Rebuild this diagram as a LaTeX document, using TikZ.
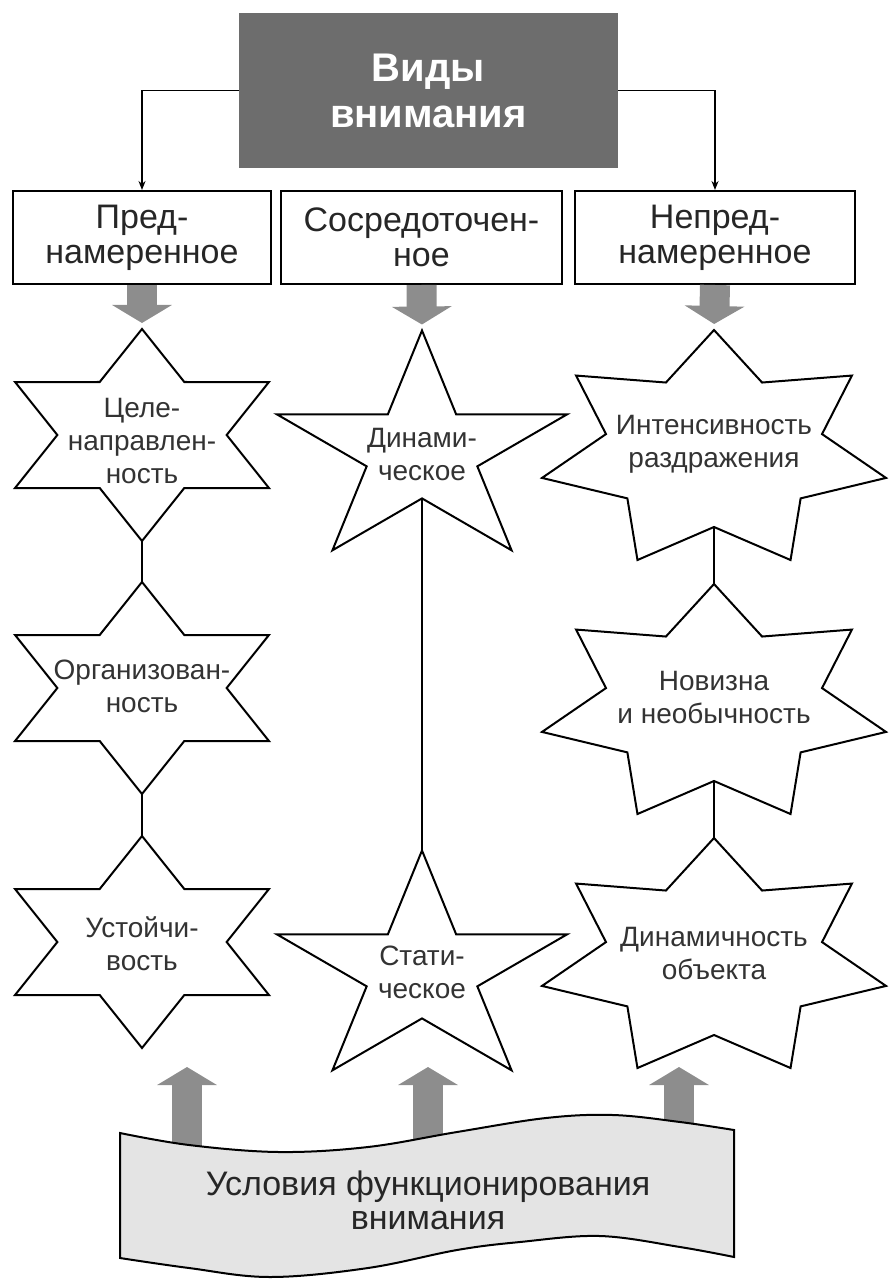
\documentclass[tikz,border=0pt]{standalone}
\usepackage{fontspec}
\setmainfont{Liberation Sans}
\usetikzlibrary{arrows.meta}
\definecolor{titlegray}{HTML}{6D6D6D}
\definecolor{arrowgray}{HTML}{8D8D8D}
\definecolor{bandgray}{HTML}{E4E4E4}
\tikzset{
  kind/.style={draw=black, line width=1pt, fill=white, minimum height=46.5pt, inner sep=0pt, align=center, font=\fontsize{17}{17.5}\selectfont, text=black!85},
  starline/.style={draw=black, line width=1pt, line join=miter},
  startext/.style={align=center, font=\fontsize{14}{16.5}\selectfont, text=black!80},
  thinarrow/.style={line width=0.8pt, -{Stealth[length=4.5pt,width=3.5pt]}},
  blockarrow/.style={draw=arrowgray, line width=15pt, -{Triangle[length=9pt,width=29.5pt]}}
}
\begin{document}
\begin{tikzpicture}[x=0.5pt,y=-0.5pt]
\useasboundingbox (0,0) rectangle (895,1283);
% top
\node[fill=titlegray, minimum width=189.5pt, minimum height=77.5pt, text=white, align=center, font=\bfseries\fontsize{20}{23}\selectfont] (title) at (428.5,90.5) {Виды\\внимания};
\node[kind, minimum width=129pt] (pred) at (142,237.5) {Пред-\\намеренное};
\node[kind, minimum width=140.5pt] (sosr) at (421.5,237.5) {Сосредоточен-\\ное};
\node[kind, minimum width=140pt] (nepred) at (715,237.5) {Непред-\\намеренное};
\draw[thinarrow] (title.west) -| (pred.north);
\draw[thinarrow] (title.east) -| (nepred.north);
% left column: six points
\foreach \n/\cy in {l1/435,l2/688,l3/942} {
  \draw[starline] plot[samples at={0,...,11}] ({142+1.383*ifthenelse(mod(\x,2)==0,106,61.2)*cos(90+30*\x)}, {\cy-ifthenelse(mod(\x,2)==0,106,61.2)*sin(90+30*\x)}) -- cycle;
  \coordinate (\n-top) at (142,\cy-106);
  \coordinate (\n-bot) at (142,\cy+106);
}
% middle column: five points
\foreach \n/\cy in {m1/452,m2/972} {
  \draw[starline] plot[samples at={0,...,9}] ({422+1.254*ifthenelse(mod(\x,2)==0,121.5,46.4)*cos(90+36*\x)}, {\cy-ifthenelse(mod(\x,2)==0,121.5,46.4)*sin(90+36*\x)}) -- cycle;
  \coordinate (\n-top) at (422,\cy-121.5);
  \coordinate (\n-bot) at (422,\cy+46.4);
}
% right column: seven points
\foreach \n/\cy in {r1/451,r2/705,r3/959} {
  \draw[starline] plot[samples at={0,...,13}] ({714+1.458*ifthenelse(mod(\x,2)==0,121,76)*cos(90+180/7*\x)}, {\cy-ifthenelse(mod(\x,2)==0,121,76)*sin(90+180/7*\x)}) -- cycle;
  \coordinate (\n-top) at (714,\cy-121);
  \coordinate (\n-bot) at (714,\cy+76);
}
\node[startext] (goal) at (142,441) {Целе-\\направлен-\\ность};
\node[startext] (org) at (142,686) {Организован-\\ность};
\node[startext] (stab) at (142,944) {Устойчи-\\вость};
\node[startext] (dyn) at (422,455) {Динами-\\ческое};
\node[startext] (stat) at (422,972) {Стати-\\ческое};
\node[startext] (inten) at (714,444) {Интенсивность\\раздражения};
\node[startext] (novel) at (714,697) {Новизна\\и необычность};
\node[startext] (motion) at (714,953) {Динамичность\\объекта};
\draw[starline] (l1-bot) -- (l2-top);
\draw[starline] (l2-bot) -- (l3-top);
\draw[starline] (m1-bot) -- (m2-top);
\draw[starline] (r1-bot) -- (r2-top);
\draw[starline] (r2-bot) -- (r3-top);
\draw[blockarrow, shorten >=3pt] (pred.south) -- (l1-top);
\draw[blockarrow, shorten >=3pt] (sosr.south) -- (m1-top);
\draw[blockarrow, shorten >=3pt] (nepred.south) -- (r1-top);
% bottom
\coordinate (u1) at (187,1067);
\coordinate (u2) at (428,1067);
\coordinate (u3) at (679,1067);
\foreach \u in {u1,u2,u3} \draw[blockarrow] ([yshift=-50pt]\u) -- (\u);
\draw[line width=1pt, fill=bandgray] plot[smooth, tension=0.6] coordinates {(120,1133) (189,1145) (279,1152) (368,1147) (457,1132) (546,1118) (613,1115) (680,1122) (734,1130)} -- plot[smooth, tension=0.6] coordinates {(734,1257) (680,1247) (600,1236) (520,1242) (457,1250) (368,1268) (270,1277) (189,1268) (120,1258)} -- cycle;
\node[align=center, font=\fontsize{17}{17}\selectfont, text=black!85] (cond) at (428,1200) {Условия функционирования\\внимания};
\end{tikzpicture}
\end{document}
